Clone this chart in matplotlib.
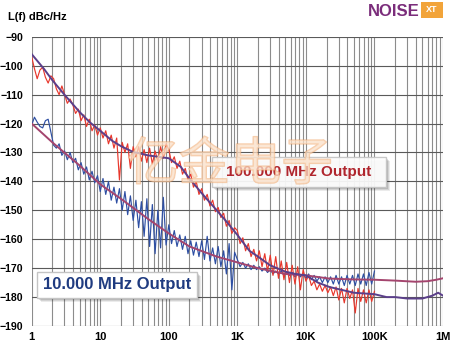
import numpy as np
import matplotlib
matplotlib.use('Agg')
import matplotlib.pyplot as plt
from matplotlib.patches import Rectangle
import matplotlib.patheffects as pe

plt.rcParams['font.family'] = ['Liberation Sans', 'DejaVu Sans']

# ---------------- data ----------------
y_ticks = [-90, -100, -110, -120, -130, -140, -150, -160, -170, -180, -190]
x_ticks = [1, 10, 100, 1e3, 1e4, 1e5, 1e6]
x_tick_labels = ['1', '10', '100', '1K', '10K', '100K', '1M']

# measured (raw) traces, 25 samples per decade from 1 Hz to 100 kHz
raw_freq = np.logspace(0, 5, 126)
raw_10mhz = [
    -120.5, -117.8, -119.5, -121.0, -121.5, -119.0, -118.5, -123.0, -127.5, -128.5,
    -127.0, -131.0, -129.5, -132.5, -130.0, -133.5, -132.0, -136.0, -133.5, -137.5,
    -135.0, -139.5, -136.5, -140.5, -138.0,
    -143.5, -139.0, -144.5, -140.0, -146.5, -142.0, -147.5, -142.5, -150.0, -143.5,
    -151.5, -145.0, -153.5, -146.5, -156.0, -147.0, -159.0, -146.0, -162.5, -148.0,
    -165.0, -150.0, -163.0, -145.5, -162.0,
    -155.0, -161.5, -157.0, -162.5, -158.5, -163.5, -159.0, -165.0, -160.5, -165.5,
    -161.0, -166.0, -160.5, -167.0, -159.0, -167.5, -163.0, -168.5, -162.5, -169.5,
    -164.0, -172.0, -161.5, -177.5, -164.5,
    -167.0, -169.5, -168.0, -170.0, -168.5, -170.5, -169.0, -170.5, -169.5, -171.0,
    -170.0, -171.5, -170.5, -172.0, -171.0, -172.0, -171.0, -172.5, -171.5, -172.5,
    -171.5, -173.0, -172.0, -173.0, -172.0,
    -173.5, -172.0, -174.0, -172.5, -174.5, -173.0, -175.0, -173.0, -175.0, -173.0,
    -175.5, -172.5, -175.5, -173.0, -176.0, -172.5, -175.5, -172.5, -176.0, -172.0,
    -175.5, -172.0, -176.0, -171.5, -175.5, -171.0,
]
raw_100mhz = [
    -97.0, -101.0, -104.5, -101.5, -100.5, -104.0, -106.0, -103.5, -104.5, -108.0,
    -110.0, -107.0, -110.0, -113.0, -111.5, -113.5, -116.5, -115.0, -119.0, -117.0,
    -121.0, -118.5, -122.5, -120.5, -124.0,
    -121.5, -125.0, -122.5, -127.0, -124.0, -128.5, -125.0, -139.5, -126.5, -130.0,
    -127.0, -135.5, -128.0, -131.5, -128.0, -133.0, -129.0, -133.5, -128.5, -134.0,
    -129.5, -133.0, -128.0, -132.0, -127.0,
    -129.0, -133.5, -131.5, -135.5, -133.0, -137.5, -135.5, -139.5, -137.5, -142.0,
    -140.0, -144.5, -142.5, -146.5, -144.5, -148.5, -146.5, -150.5, -149.0, -152.5,
    -151.0, -155.5, -153.5, -158.0, -156.0,
    -157.0, -161.5, -159.5, -164.0, -161.5, -166.0, -163.5, -167.5, -164.0, -169.5,
    -165.0, -171.0, -165.5, -172.5, -166.0, -173.5, -167.5, -174.0, -168.0, -175.0,
    -169.0, -175.5, -169.5, -177.5, -170.5,
    -174.5, -172.5, -176.0, -174.5, -177.5, -175.5, -178.0, -176.0, -178.5, -176.5,
    -179.5, -176.5, -181.0, -177.0, -182.0, -177.0, -180.5, -177.5, -185.5, -177.0,
    -181.5, -177.5, -182.0, -177.5, -181.5, -178.0,
]

# averaged (smoothed) traces
smooth_10_freq = [1, 2, 5, 10, 20, 50, 100, 200, 500, 1e3, 2e3, 5e3, 1e4, 2.2e4,
                  5e4, 1e5, 2e5, 4e5, 6e5, 8e5, 1e6]
smooth_10 = [-120, -126.5, -134.5, -141, -146, -153, -158, -162.5, -166, -168, -170,
             -172, -172.5, -173.6, -173.9, -174, -174.3, -174.7, -174.5, -174, -173.5]
smooth_100_freq = [1, 1.5, 2, 3, 5, 7, 10, 15, 20, 30, 50, 70, 100, 150, 200, 300, 500,
                   700, 1e3, 1.5e3, 2e3, 3e3, 5e3, 7e3, 1e4, 1.5e4, 2.2e4, 5e4, 1e5,
                   1.5e5, 2e5, 3e5, 5e5, 7e5, 8.5e5, 1e6]
smooth_100 = [-96, -101, -105, -110, -116, -119.5, -122.5, -126, -127.8, -129.8, -131,
              -131.5, -132, -135, -139, -144, -150, -154, -158.5, -164, -166, -169,
              -171.2, -172, -172.5, -175, -176.5, -178.5, -179, -180, -180, -180.5,
              -180.5, -179.5, -178.5, -179.5]

W, H = 450, 343
fig = plt.figure(figsize=(W / 100, H / 100), dpi=100)
fig.patch.set_facecolor('white')

def fx(px):
    return px / W

def fy(py):
    return 1 - py / H

ax = fig.add_axes([fx(31.7), fy(326), fx(443) - fx(31.7), fy(36.8) - fy(326)])
ax.set_xscale('log')
ax.set_xlim(1, 1e6)
ax.set_ylim(-190, -90)
ax.set_yticks(y_ticks)
ax.set_xticks(x_ticks)
ax.set_xticklabels(x_tick_labels)
for s in ax.spines.values():
    s.set_visible(False)
ax.grid(which='both', axis='x', color='#8c8c8c', lw=0.8)
ax.grid(which='major', axis='y', color='#5a5a5a', lw=0.8)
ax.tick_params(which='both', length=0)
ax.tick_params(axis='y', pad=6)
ax.tick_params(axis='x', pad=4)
for lab in ax.get_xticklabels():
    lab.set_fontweight('bold')
    lab.set_fontsize(8)
for lab in ax.get_yticklabels():
    lab.set_fontweight('bold')
    lab.set_fontsize(7.6)

ax.plot(raw_freq, raw_10mhz, color='#2e4fa3', lw=0.85, zorder=3)
ax.plot(raw_freq, raw_100mhz, color='#e8372c', lw=0.85, zorder=3)
ax.plot(smooth_10_freq, smooth_10, color='#a4456e', lw=1.4, zorder=4)
ax.plot(smooth_100_freq, smooth_100, color='#5b3f8a', lw=1.4, zorder=4)

# header texts
fig.text(fx(8), fy(17), 'L(f) dBc/Hz', fontsize=8, fontweight='bold', va='center', ha='left')
fig.text(fx(420), fy(11), 'NOISE', fontsize=12, fontweight='bold', color='#7b2d7b',
         ha='right', va='center', fontstretch='condensed')
fig.patches.append(Rectangle((fx(421), fy(17.5)), fx(443) - fx(421), fy(2) - fy(17.5),
                             transform=fig.transFigure, fc='#f2a43a', ec='none'))
fig.text(fx(432), fy(10), 'XT', fontsize=6.5, fontweight='bold', color='white',
         ha='center', va='center')

# label boxes
def label_box(x0, y0, x1, y1, text, color, size, alpha=1.0):
    for k, a in [(4, 0.08), (3, 0.1), (2, 0.12)]:
        fig.patches.append(Rectangle((fx(x0 + k), fy(y1 + k)), fx(x1) - fx(x0), fy(y0) - fy(y1),
                                     transform=fig.transFigure, fc='#000000', ec='none',
                                     alpha=a, zorder=5))
    fig.patches.append(Rectangle((fx(x0), fy(y1)), fx(x1) - fx(x0), fy(y0) - fy(y1),
                                 transform=fig.transFigure, fc='white', ec='#c4c4c4',
                                 lw=1, alpha=alpha, zorder=6))
    fig.text(fx((x0 + x1) / 2), fy((y0 + y1) / 2), text, fontsize=size, fontweight='bold',
             color=color, ha='center', va='center', zorder=7)

label_box(212, 157, 386, 187, '100.000 MHz Output', '#b0262e', 11, alpha=0.92)
label_box(37, 272, 197, 298, '10.000 MHz Output', '#1f3b80', 12)

# watermark
wm = fig.text(fx(230), fy(165), '亿金电子', fontsize=37, color='#fbe0c8',
              family=['Noto Sans CJK SC', 'DejaVu Sans'], ha='center', va='center',
              alpha=0.5, zorder=10)
wm.set_path_effects([pe.Stroke(linewidth=1.1, foreground='#f0a060'), pe.Normal()])

fig.savefig('out.png', dpi=100)
